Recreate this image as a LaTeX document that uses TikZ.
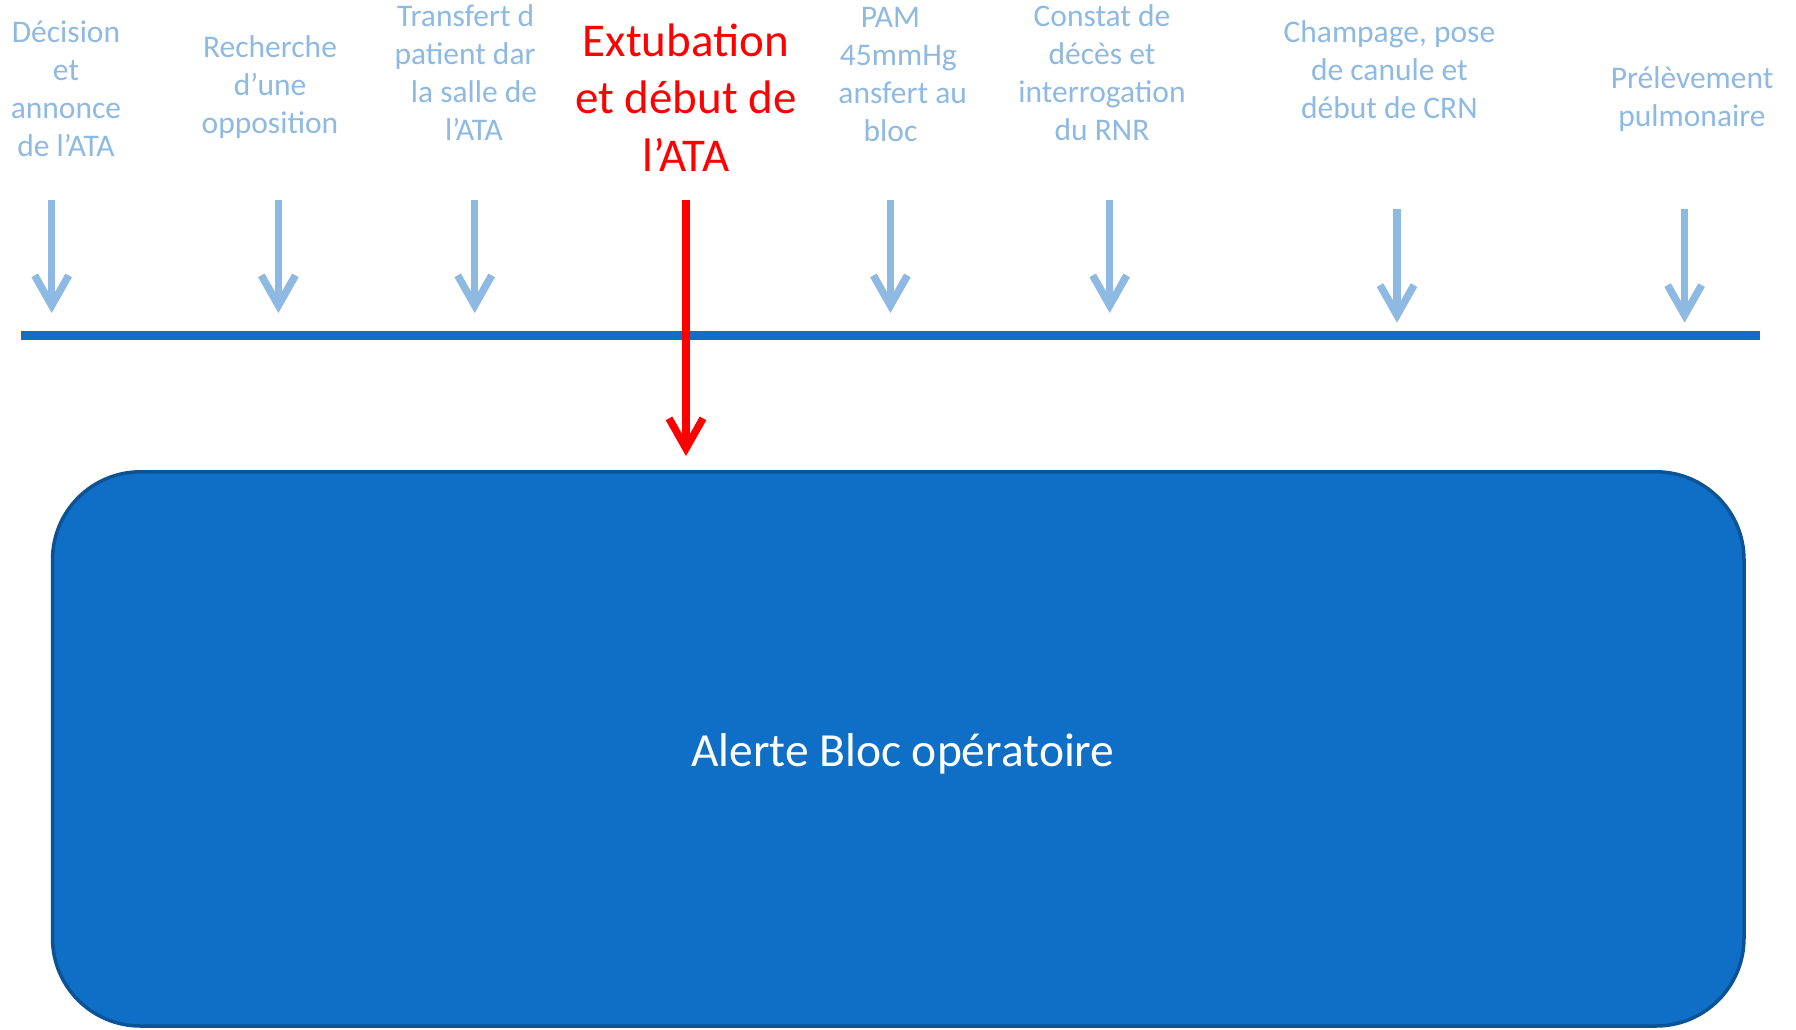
\documentclass[tikz,border=0pt]{standalone}
\usepackage{fontspec}
\setmainfont{Carlito}
\usetikzlibrary{arrows.meta}
\definecolor{tlblue}{HTML}{0F6FC6}
\definecolor{lightblue}{HTML}{8DB9E2}
\definecolor{boxedge}{HTML}{0B5395}
\begin{document}
\begin{tikzpicture}[x=1pt,y=-1pt,
  evt/.style={anchor=base, inner sep=0pt, align=center, text=lightblue,
    font=\fontsize{31.5}{38}\selectfont},
  keyevt/.style={anchor=base, inner sep=0pt, align=center, text=red,
    font=\fontsize{47}{57.5}\selectfont},
  tick/.style={draw=lightblue, line width=7.5pt,
    -{Straight Barb[length=30pt,width=34pt]}},
  keytick/.style={draw=red, line width=7.5pt,
    -{Straight Barb[length=30pt,width=34pt]}},
  timeline/.style={draw=tlblue, line width=9pt},
  alertbox/.style={draw=boxedge, line width=3.5pt, fill=tlblue,
    rounded corners=88pt, minimum width=1691.5pt, minimum height=554.2pt,
    inner sep=0pt, text=white, font=\fontsize{47.5}{57.5}\selectfont,
    text height=40pt, text depth=4.4pt}]
\useasboundingbox (0,0) rectangle (1796,1029);

% labels (positioned at the baseline of their last line)
\node[evt] (l1) at (66,156.7) {Décision\\et\\annonce\\de l’ATA};
\node[evt] (l2) at (270,133.5) {Recherche\\d’une\\opposition};
\node[evt] (l3) at (474,140.7) {Transfert d\hphantom{u}\\patient dar\rule{0.567em}{0pt}\\la salle de\\l’ATA};
\node[keyevt] (l4) at (686,171) {Extubation\\et début de\\l’ATA};
\node[evt] (l5) at (890.5,141.3) {PAM\\\hphantom{<}45mmHg\\\hphantom{Tr}ansfert au\\bloc};
\node[evt] (l6) at (1102,140.7) {Constat de\\décès et\\interrogation\\du RNR};
\node[evt] (l7) at (1389.4,118.7) {Champage, pose\\de canule et\\début de CRN};
\node[evt] (l8) at (1692,126.3) {Prélèvement\\pulmonaire};

% timeline
\coordinate (tl0) at (21,335.5);
\coordinate (tl1) at (1760,335.5);
\draw[timeline] (tl0) -- (tl1);

% arrow end points
\coordinate (a1s) at (51.7,200);   \coordinate (a1e) at (51.7,313);
\coordinate (a2s) at (278.4,200);  \coordinate (a2e) at (278.4,313);
\coordinate (a3s) at (474.7,200);  \coordinate (a3e) at (474.7,313);
\coordinate (a5s) at (890.4,200);  \coordinate (a5e) at (890.4,313);
\coordinate (a6s) at (1109.7,200); \coordinate (a6e) at (1109.7,313);
\coordinate (a7s) at (1397,209);   \coordinate (a7e) at (1397,322.7);
\coordinate (a8s) at (1684.6,209); \coordinate (a8e) at (1684.6,322.7);
\coordinate (a4s) at (686,200);    \coordinate (a4e) at (686,456);

\draw[tick] (a1s) -- (a1e);
\draw[tick] (a2s) -- (a2e);
\draw[tick] (a3s) -- (a3e);
\draw[tick] (a5s) -- (a5e);
\draw[tick] (a6s) -- (a6e);
\draw[tick] (a7s) -- (a7e);
\draw[tick] (a8s) -- (a8e);
\draw[keytick] (a4s) -- (a4e);

% alert box
\node[alertbox] (alert) at (898.25,748.9) {\hspace*{9pt}Alerte Bloc opératoire};
\end{tikzpicture}
\end{document}
